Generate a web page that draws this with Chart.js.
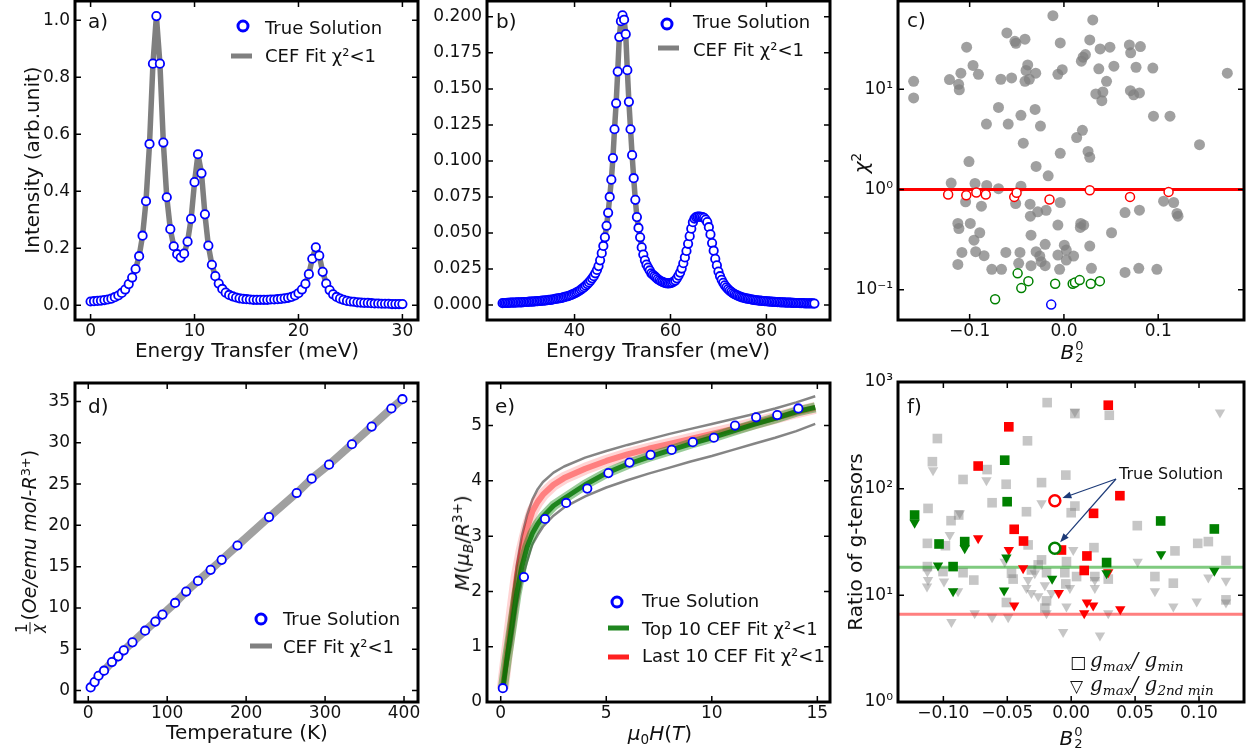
<!DOCTYPE html>
<html>
<head>
<meta charset="utf-8">
<script src="https://cdn.jsdelivr.net/npm/chart.js@4.4.0/dist/chart.umd.min.js"></script>
<style>
body { margin: 0; background: #fff; }
#fig { position: relative; width: 1250px; height: 755px; overflow: hidden; font-family: 'DejaVu Sans', sans-serif; color: #111; }
canvas { position: absolute; }
.t { position: absolute; white-space: nowrap; font-size: 20px; line-height: 20px; }
.ctr { transform: translate(-50%, -50%); }
.rot { transform: translate(-50%, -50%) rotate(-90deg); }
.pl { position: absolute; font-size: 20px; line-height: 20px; }
.leg { position: absolute; font-size: 18px; line-height: 18px; white-space: nowrap; }
.mk { position: absolute; width: 7px; height: 7px; border: 3px solid #00f; border-radius: 50%; background: #fff; transform: translate(-50%, -50%); }
.sw { position: absolute; height: 5px; transform: translateY(-50%); }
sup, sub { font-size: 0.68em; line-height: 0; position: relative; vertical-align: baseline; }
sup { top: -0.5em; }
sub { top: 0.3em; }
.st { display: inline-block; vertical-align: middle; font-size: 13px; line-height: 12px; margin-left: 1px; text-align: left; position: relative; top: -1px; }
.st span { display: block; }
.fr { display: inline-block; vertical-align: middle; text-align: center; font-size: 15px; line-height: 15px; margin-right: 2px; }
.fr span { display: block; padding: 0 1px; }
.fr .de { border-top: 1.3px solid #111; }
.gm { font-family: 'DejaVu Serif', serif; font-style: italic; font-size: 20px; }
</style>
</head>
<body>
<div id="fig">
  <canvas id="ca"></canvas>
  <canvas id="cb"></canvas>
  <canvas id="cc"></canvas>
  <canvas id="cd"></canvas>
  <canvas id="ce"></canvas>
  <canvas id="cf"></canvas>

  <!-- panel labels -->
  <div class="pl" style="left:88px;top:11px">a)</div>
  <div class="pl" style="left:496px;top:11px">b)</div>
  <div class="pl" style="left:907px;top:10px">c)</div>
  <div class="pl" style="left:88px;top:396px">d)</div>
  <div class="pl" style="left:495px;top:396px">e)</div>
  <div class="pl" style="left:907px;top:396px">f)</div>

  <!-- axis titles -->
  <div class="t rot" style="left:32px;top:160px">Intensity (arb.unit)</div>
  <div class="t ctr" style="left:247px;top:350px">Energy Transfer (meV)</div>
  <div class="t ctr" style="left:658px;top:350px">Energy Transfer (meV)</div>
  <div class="t rot" style="left:861px;top:163px"><i>χ</i><sup>2</sup></div>
  <div class="t ctr" style="left:1072px;top:353px"><i>B</i><span class="st"><span>0</span><span>2</span></span></div>

  <div class="t rot" style="left:30px;top:542px;font-size:19px"><span class="fr"><span>1</span><span class="de"><i>χ</i></span></span>(<i>Oe/emu mol-R</i><sup>3+</sup>)</div>
  <div class="t ctr" style="left:247px;top:732px">Temperature (K)</div>
  <div class="t rot" style="left:462px;top:543px"><i>M</i>(<i>μ</i><sub><i>B</i></sub>/<i>R</i><sup>3+</sup>)</div>
  <div class="t ctr" style="left:660px;top:733px"><i>μ</i><sub>0</sub><i>H</i>(<i>T</i>)</div>
  <div class="t rot" style="left:855px;top:542px">Ratio of g-tensors</div>
  <div class="t ctr" style="left:1071px;top:739px"><i>B</i><span class="st"><span>0</span><span>2</span></span></div>

  <!-- legend a -->
  <div class="mk" style="left:243px;top:26px"></div>
  <div class="leg" style="left:265px;top:19px">True Solution</div>
  <div class="sw" style="left:231px;top:56px;width:21px;background:#808080"></div>
  <div class="leg" style="left:265px;top:47px">CEF Fit χ²&lt;1</div>
  <!-- legend b -->
  <div class="mk" style="left:667px;top:24px"></div>
  <div class="leg" style="left:693px;top:13px">True Solution</div>
  <div class="sw" style="left:658px;top:48px;width:21px;background:#808080"></div>
  <div class="leg" style="left:693px;top:41px">CEF Fit χ²&lt;1</div>
  <!-- legend d -->
  <div class="mk" style="left:261px;top:619px"></div>
  <div class="leg" style="left:283px;top:610px">True Solution</div>
  <div class="sw" style="left:250px;top:646px;width:22px;background:#808080"></div>
  <div class="leg" style="left:283px;top:638px">CEF Fit χ²&lt;1</div>
  <!-- legend e -->
  <div class="mk" style="left:617px;top:602px"></div>
  <div class="leg" style="left:642px;top:592px">True Solution</div>
  <div class="sw" style="left:608px;top:628px;width:21px;background:#1f861f"></div>
  <div class="leg" style="left:642px;top:620px">Top 10 CEF Fit χ²&lt;1</div>
  <div class="sw" style="left:608px;top:657px;width:21px;background:#ff2020"></div>
  <div class="leg" style="left:642px;top:647px">Last 10 CEF Fit χ²&lt;1</div>
  <!-- legend f -->
  <div class="leg" style="left:1070px;top:653px;font-size:17px">□</div>
  <div class="leg gm" style="left:1090px;top:651px">g<sub>max</sub>/ g<sub>min</sub></div>
  <div class="leg" style="left:1070px;top:677px;font-size:17px">▽</div>
  <div class="leg gm" style="left:1090px;top:675px">g<sub>max</sub>/ g<sub>2nd min</sub></div>
  <div class="leg" style="left:1119px;top:466px;font-size:16px;line-height:16px">True Solution</div>
</div>

<script>
// a) INS spectrum 1
const aE = [0,0.33,0.67,1,1.33,1.67,2,2.33,2.67,3,3.33,3.67,4,4.33,4.67,5,5.33,5.67,6,6.33,6.67,7,7.33,7.67,8,8.33,8.67,9,9.33,9.67,10,10.33,10.67,11,11.33,11.67,12,12.33,12.67,13,13.33,13.67,14,14.33,14.67,15,15.33,15.67,16,16.33,16.67,17,17.33,17.67,18,18.33,18.67,19,19.33,19.67,20,20.33,20.67,21,21.33,21.67,22,22.33,22.67,23,23.33,23.67,24,24.33,24.67,25,25.33,25.67,26,26.33,26.67,27,27.33,27.67,28,28.33,28.67,29,29.33,29.67,30];
const aI = [.013,.014,.015,.016,.018,.020,.023,.028,.034,.043,
  .055,.074,.097,.127,.172,.244,.365,.566,.848,1.015,
  .848,.571,.379,.267,.207,.179,.167,.181,.223,.303,
  .432,.530,.463,.319,.209,.142,.102,.076,.057,.044,
  .036,.031,.027,.024,.022,.021,.020,.019,.019,.019,
  .019,.019,.020,.020,.021,.022,.024,.026,.029,.034,
  .042,.055,.075,.109,.163,.203,.174,.117,.076,.053,
  .038,.029,.023,.019,.015,.013,.012,.010,.009,.008,
  .008,.007,.006,.006,.005,.005,.005,.004,.004,.004,.004];
const aXTicks = [0, 10, 20, 30], aXLabels = ['0', '10', '20', '30'];
const aYTicks = [0, 0.2, 0.4, 0.6, 0.8, 1.0], aYLabels = ['0.0', '0.2', '0.4', '0.6', '0.8', '1.0'];

// b) INS spectrum 2
const bE = [25,25.33,25.67,26,26.33,26.67,27,27.33,27.67,28,28.33,28.67,29,29.33,29.67,30,30.33,30.67,31,31.33,31.67,32,32.33,32.67,33,33.33,33.67,34,34.33,34.67,35,35.33,35.67,36,36.33,36.67,37,37.33,37.67,38,38.33,38.67,39,39.33,39.67,40,40.33,40.67,41,41.33,41.67,42,42.33,42.67,43,43.33,43.67,44,44.33,44.67,45,45.33,45.67,46,46.33,46.67,47,47.33,47.67,48,48.33,48.67,49,49.33,49.67,50,50.33,50.67,51,51.33,51.67,52,52.33,52.67,53,53.33,53.67,54,54.33,54.67,55,55.33,55.67,56,56.33,56.67,57,57.33,57.67,58,58.33,58.67,59,59.33,59.67,60,60.33,60.67,61,61.33,61.67,62,62.33,62.67,63,63.33,63.67,64,64.33,64.67,65,65.33,65.67,66,66.33,66.67,67,67.33,67.67,68,68.33,68.67,69,69.33,69.67,70,70.33,70.67,71,71.33,71.67,72,72.33,72.67,73,73.33,73.67,74,74.33,74.67,75,75.33,75.67,76,76.33,76.67,77,77.33,77.67,78,78.33,78.67,79,79.33,79.67,80,80.33,80.67,81,81.33,81.67,82,82.33,82.67,83,83.33,83.67,84,84.33,84.67,85,85.33,85.67,86,86.33,86.67,87,87.33,87.67,88,88.33,88.67,89,89.33,89.67,90];
const bI = [.0013,.0014,.0014,.0015,.0015,.0016,.0016,.0017,.0017,.0018,
  .0018,.0019,.0019,.0020,.0021,.0021,.0022,.0023,.0023,.0024,
  .0025,.0026,.0027,.0028,.0029,.0030,.0031,.0032,.0033,.0035,
  .0036,.0038,.0040,.0042,.0044,.0046,.0048,.0050,.0053,.0056,
  .0059,.0062,.0066,.0070,.0075,.0080,.0086,.0092,.0099,.0107,
  .0115,.0124,.0134,.0145,.0157,.0170,.0185,.0200,.0220,.0243,
  .0270,.0310,.0360,.0410,.0470,.0550,.0640,.0750,.0870,.1020,
  .1220,.1400,.1620,.1860,.1970,.2010,.1980,.1880,.1630,.1410,
  .1220,.1040,.0880,.0730,.0610,.0535,.0470,.0400,.0350,.0310,
  .0280,.0260,.0240,.0220,.0210,.0200,.0190,.0180,.0172,.0165,
  .0160,.0155,.0152,.0150,.0150,.0152,.0156,.0162,.0170,.0185,
  .0204,.0225,.0253,.0290,.0330,.0375,.0425,.0478,.0530,.0575,
  .0600,.0610,.0613,.0613,.0612,.0610,.0605,.0593,.0575,.0540,
  .0490,.0430,.0377,.0320,.0275,.0232,.0200,.0175,.0154,.0137,
  .0123,.0111,.0100,.0091,.0083,.0076,.0070,.0065,.0060,.0056,
  .0052,.0049,.0046,.0044,.0042,.0040,.0038,.0036,.0034,.0033,
  .0031,.0030,.0029,.0028,.0027,.0026,.0025,.0024,.0023,.0022,
  .0022,.0021,.0020,.0020,.0019,.0018,.0018,.0017,.0017,.0016,
  .0016,.0015,.0015,.0014,.0014,.0014,.0013,.0013,.0013,.0012,
  .0012,.0012,.0011,.0011,.0011,.0010];
const bXTicks = [40, 60, 80], bXLabels = ['40', '60', '80'];
const bYTicks = [0, 0.025, 0.05, 0.075, 0.1, 0.125, 0.15, 0.175, 0.2];
const bYLabels = ['0.000', '0.025', '0.050', '0.075', '0.100', '0.125', '0.150', '0.175', '0.200'];

// c) chi^2 vs B20
const cGrayB = [-0.0117,0.0306,-0.0605,-0.0520,-0.0413,-0.0509,-0.0039,0.0274,-0.1032,0.0384,
  0.0488,0.0694,0.0811,0.0708,0.0228,0.0185,0.0203,-0.0384,-0.0402,-0.0964,
  -0.1093,-0.0907,-0.0299,-0.0367,-0.0413,-0.0669,-0.0555,-0.1214,-0.1117,-0.1110,
  -0.1594,-0.1594,-0.0018,-0.0064,0.0370,0.0530,0.0765,0.0943,0.0452,0.0338,
  0.0413,0.0402,0.0705,0.0740,0.0801,0.1733,-0.0694,-0.0306,-0.0456,-0.0822,
  -0.0591,-0.0249,0.0950,0.1125,0.0196,0.0135,-0.0431,0.1438,0.0256,-0.0039,
  0.0274,-0.1007,-0.0295,-0.0167,-0.1196,-0.0943,-0.0819,-0.0694,-0.0456,-0.1043,
  -0.0875,-0.0512,-0.0359,-0.0039,-0.0189,-0.0278,-0.0356,0.0648,0.0801,0.1057,
  0.1164,0.1199,0.1210,-0.1125,-0.1114,-0.0993,-0.0893,-0.0954,-0.0064,0.0178,
  0.0174,0.0210,0.0505,-0.0349,-0.0199,0.0004,0.0025,0.0274,-0.1082,-0.0936,
  -0.0847,-0.0616,-0.0466,-0.0295,-0.0256,-0.0064,0.0103,0.0025,-0.1125,-0.0480,
  -0.0349,-0.0199,-0.0765,-0.0662,-0.0046,0.0292,0.0648,0.0794,0.0986,-0.0242];
const cGrayChi = [54.3,49.2,36.5,30.1,31.6,28.8,29.0,31.1,26.3,25.3,
  26.3,27.7,26.7,23.1,22.2,19.1,20.9,17.5,15.4,17.3,
  14.5,14.1,14.5,12.6,12.0,12.6,13.0,12.5,11.2,9.9,
  12.0,8.2,15.7,14.1,16.0,17.0,16.6,16.3,12.0,9.0,
  9.4,7.7,9.7,8.8,9.2,14.5,6.6,6.3,5.5,4.5,
  4.5,4.3,5.4,5.4,3.9,3.3,2.9,2.8,2.4,2.3,
  2.1,1.9,1.7,1.37,1.16,1.15,1.10,1.02,1.08,0.754,
  0.682,0.726,0.715,0.743,0.622,0.600,0.543,0.590,0.623,0.765,
  0.743,0.577,0.543,0.459,0.409,0.459,0.371,0.313,0.442,0.459,
  0.419,0.442,0.371,0.351,0.284,0.279,0.249,0.273,0.236,0.240,
  0.219,0.236,0.236,0.240,0.217,0.222,0.217,0.198,0.179,0.184,
  0.174,0.174,0.160,0.160,0.160,0.164,0.149,0.164,0.160,0.191];
const cRedB = [-0.1228,-0.1036,-0.0929,-0.0829,-0.0527,-0.0502,-0.0153,0.0274,0.0701,0.1110];
const cRedChi = [0.892,0.879,0.933,0.892,0.845,0.927,0.795,0.985,0.845,0.948];
const cGreenB = [-0.0730,-0.0491,-0.0452,-0.0377,-0.0093,0.0093,0.0117,0.0167,0.0285,0.0381];
const cGreenChi = [0.0804,0.146,0.104,0.122,0.115,0.115,0.118,0.125,0.115,0.122];
const cTrueB = [-0.0135], cTrueChi = [0.0712];
const cLimit = 1;
const cXTicks = [-0.1, 0, 0.1], cXLabels = ['\u22120.1', '0.0', '0.1'];
const cYTicks = [0.1, 1, 10], cYLabels = ['10\u207B\u00B9', '10\u2070', '10\u00B9'];

// d) inverse susceptibility
const dT = [3,8,13,20,30,38,45,56,72,85,94,110,124,139,155,169,189,229,264,283,305,334,359,384,398];
const dInv = [0.36,1.01,1.78,2.39,3.44,4.13,4.86,5.83,7.24,8.34,9.19,10.60,11.98,13.27,14.61,15.82,17.56,21.00,23.92,25.66,27.36,29.83,31.97,34.16,35.29];
const dXTicks = [0, 100, 200, 300, 400], dXLabels = ['0', '100', '200', '300', '400'];
const dYTicks = [0, 5, 10, 15, 20, 25, 30, 35], dYLabels = ['0', '5', '10', '15', '20', '25', '30', '35'];

// e) magnetization
const eH = [0.1,1.1,2.1,3.1,4.1,5.1,6.1,7.1,8.1,9.1,10.1,11.1,12.1,13.1,14.1];
const eM = [0.25,2.26,3.31,3.60,3.86,4.14,4.33,4.47,4.56,4.70,4.78,5.00,5.15,5.19,5.31];
const eHfit = [0.1,0.3,0.5,0.75,1,1.25,1.5,1.75,2,2.5,3,4,5,6,7,8,9,10,11,12,13,14,14.9];
const eUpper = [0.25,0.95,1.6,2.45,3.0,3.38,3.66,3.85,3.98,4.15,4.26,4.42,4.54,4.65,4.75,4.85,4.94,5.03,5.12,5.21,5.31,5.42,5.53];
const eLower = [0.22,0.65,1.05,1.72,2.2,2.55,2.85,3.02,3.17,3.37,3.52,3.72,3.88,4.01,4.13,4.24,4.35,4.45,4.56,4.67,4.78,4.9,5.03];
const eTop10 = [0.24,0.8,1.3,1.95,2.45,2.8,3.05,3.22,3.35,3.55,3.68,3.93,4.14,4.3,4.43,4.55,4.67,4.78,4.9,5.02,5.13,5.25,5.33];
const eLast10 = [0.25,0.9,1.5,2.25,2.75,3.15,3.45,3.62,3.75,3.93,4.05,4.22,4.36,4.48,4.58,4.67,4.76,4.85,4.94,5.04,5.14,5.24,5.32];
const eXTicks = [0, 5, 10, 15], eXLabels = ['0', '5', '10', '15'];
const eYTicks = [0, 1, 2, 3, 4, 5], eYLabels = ['0', '1', '2', '3', '4', '5'];

// f) ratio of g-tensors
const fGraySqB = [-0.0188,0.0029,0.0298,-0.1047,-0.0342,-0.1086,-0.0658,-0.0846,-0.0232,-0.0042,
  -0.0509,-0.0619,-0.1120,-0.0350,0.0029,0.0000,-0.0940,-0.0880,-0.1125,-0.0984,
  -0.0337,-0.0232,0.0178,-0.0037,0.0517,0.0812,0.0990,0.1073,0.1211,-0.1125,
  -0.1003,-0.0846,-0.0762,-0.0467,-0.0454,-0.0311,-0.0258,-0.0193,-0.0050,0.0042,
  0.0185,0.0290,0.0655,0.0799,0.1211,-0.0507,-0.0193,-0.0206,-0.0042];
const fGraySqR = [641,506,488,295,281,179,151,122,114,134,
  110,73.8,65.3,60.8,68.7,59.5,50.1,56.6,30.7,29.2,
  29.7,21.5,28.0,20.7,45.0,26.1,30.7,31.9,21.2,18.6,
  16.7,16.3,13.9,16.1,14.2,17.3,19.3,16.3,16.3,15.0,
  15.0,14.2,15.0,13.0,9.07,8.57,8.87,7.59,12.8];
const fGrayTrB = [-0.1081,-0.0663,-0.0232,-0.0872,-0.0950,0.1164,0.0029,-0.1125,-0.1120,-0.1128,
  -0.0995,-0.0885,-0.0520,-0.0337,-0.0311,-0.0206,0.0016,0.0185,0.0185,0.0520,
  0.0655,0.0799,0.0982,0.1073,0.1211,0.1211,-0.0755,-0.0619,-0.0493,-0.0937,
  -0.0193,-0.0037,0.0290,-0.0063,0.0225,-0.0285,-0.0350,-0.0258,-0.0154,-0.0010];
const fGrayTrR = [149,120,72.8,58.7,36.8,517,525,16.7,13.9,12.1,
  13.5,10.9,20.7,13.9,10.5,12.4,26.6,13.9,11.7,20.7,
  10.9,7.85,8.75,14.7,13.7,8.57,6.81,6.24,6.24,5.61,
  6.81,7.85,6.81,4.52,4.21,16.1,11.7,9.8,10.5,11.7];
const fGreenSqB = [-0.0520,-0.0501,-0.1225,-0.1034,-0.0833,-0.0924,0.0277,0.0700,0.1120];
const fGreenSqR = [185,75.5,56.6,30.3,31.9,18.6,20.3,49.8,41.9];
const fGreenTrB = [-0.1225,-0.0833,-0.1042,-0.0924,-0.0507,-0.0525,-0.0149,0.0277,0.0703,0.1120];
const fGreenTrR = [48.0,27.6,19.0,10.9,22.6,11.1,14.3,16.1,24.3,17.0];
const fRedSqB = [0.0290,-0.0488,-0.0728,0.0381,0.0175,-0.0446,-0.0373,-0.0076,0.0123,0.0102];
const fRedSqR = [606,380,163,85.9,58.7,41.6,32.3,26.6,23.4,17.1];
const fRedTrB = [-0.0728,-0.0488,-0.0376,0.0290,-0.0097,-0.0446,0.0123,0.0172,0.0102,0.0384];
const fRedTrR = [34.3,26.6,17.9,16.5,10.5,8.03,8.57,8.03,6.81,7.42];
const fTrueB = [-0.0128], fTrueSq = [77.1], fTrueTr = [27.6];
const fGreenLevel = 18.3, fRedLevel = 6.66;
const fXTicks = [-0.1, -0.05, 0, 0.05, 0.1];
const fXLabels = ['\u22120.10', '\u22120.05', '0.00', '0.05', '0.10'];
const fYTicks = [1, 10, 100, 1000], fYLabels = ['10\u2070', '10\u00B9', '10\u00B2', '10\u00B3'];

// ---------- helpers ----------
const pts = (xs, ys) => xs.map((x, i) => ({x: x, y: ys[i]}));
const hline = (v, x0, x1) => [{x: x0, y: v}, {x: x1, y: v}];

function axis(type, min, max, tickVals, tickLabels, isX) {
  return {
    type: type, min: min, max: max,
    grid: {display: false, drawTicks: false},
    border: {display: false},
    ticks: {
      autoSkip: false, maxRotation: 0, minRotation: 0,
      font: {family: 'DejaVu Sans', size: 17}, color: '#111',
      padding: isX ? 1 : 5,
      callback: (v, i) => tickLabels[i]
    },
    afterBuildTicks: s => { s.ticks = tickVals.map(v => ({value: v})); },
    afterFit: s => {
      if (isX) s.height = 40; else s.width = 60;
      s.paddingLeft = 0; s.paddingRight = 0; s.paddingTop = 0; s.paddingBottom = 0;
    }
  };
}

// inward ticks on all four sides + heavy frame
const frame = {
  id: 'frame',
  afterDraw(chart) {
    const ctx = chart.ctx, a = chart.chartArea;
    const x = chart.scales.x, y = chart.scales.y;
    ctx.save();
    ctx.strokeStyle = '#000';
    ctx.lineWidth = 1.5;
    ctx.beginPath();
    x.ticks.forEach(t => {
      const p = x.getPixelForValue(t.value);
      ctx.moveTo(p, a.bottom); ctx.lineTo(p, a.bottom - 6);
      ctx.moveTo(p, a.top); ctx.lineTo(p, a.top + 6);
    });
    y.ticks.forEach(t => {
      const p = y.getPixelForValue(t.value);
      ctx.moveTo(a.left, p); ctx.lineTo(a.left + 6, p);
      ctx.moveTo(a.right, p); ctx.lineTo(a.right - 6, p);
    });
    ctx.stroke();
    ctx.lineWidth = 3;
    ctx.strokeRect(a.left, a.top, a.right - a.left, a.bottom - a.top);
    ctx.restore();
  }
};

// arrows from "True Solution" text to the two circles in f)
const arrows = {
  id: 'arrows',
  afterDatasetsDraw(chart) {
    const ctx = chart.ctx, a = chart.chartArea;
    const x = chart.scales.x, y = chart.scales.y;
    const sx = a.left + 218, sy = a.top + 97;
    [fTrueSq[0], fTrueTr[0]].forEach(v => {
      const cx = x.getPixelForValue(fTrueB[0]), cy = y.getPixelForValue(v);
      const dx = sx - cx, dy = sy - cy, L = Math.hypot(dx, dy);
      const ux = dx / L, uy = dy / L;
      const tx = cx + ux * 8, ty = cy + uy * 8;
      ctx.save();
      ctx.strokeStyle = '#1c3a78'; ctx.fillStyle = '#1c3a78'; ctx.lineWidth = 1.2;
      ctx.beginPath(); ctx.moveTo(sx, sy); ctx.lineTo(tx + ux * 7, ty + uy * 7); ctx.stroke();
      ctx.beginPath();
      ctx.moveTo(tx, ty);
      ctx.lineTo(tx + ux * 9 - uy * 3.5, ty + uy * 9 + ux * 3.5);
      ctx.lineTo(tx + ux * 9 + uy * 3.5, ty + uy * 9 - ux * 3.5);
      ctx.closePath(); ctx.fill();
      ctx.restore();
    });
  }
};

function panel(id, rect, xAxis, yAxis, datasets, extra) {
  const [L, T, R, B] = rect;
  const cv = document.getElementById(id);
  cv.width = R - L + 80; cv.height = B - T + 55;
  cv.style.left = (L - 70) + 'px'; cv.style.top = (T - 10) + 'px';
  return new Chart(cv, {
    type: 'scatter',
    data: {datasets: datasets},
    options: {
      responsive: false, animation: false, events: [],
      layout: {padding: {left: 10, top: 10, right: 10, bottom: 5}},
      plugins: {legend: {display: false}, tooltip: {enabled: false}},
      scales: {x: xAxis, y: yAxis}
    },
    plugins: [frame].concat(extra || [])
  });
}

const trueSol = (data, order) => ({
  data: data, order: order, pointRadius: 4.2, pointBorderWidth: 1.8,
  pointBorderColor: '#0000ff', pointBackgroundColor: '#ffffff'
});
const fitLine = (data, color, width, order) => ({
  data: data, order: order, showLine: true, pointRadius: 0, borderColor: color,
  borderWidth: width, borderJoinStyle: 'round', borderCapStyle: 'butt', tension: 0
});

// ---------- panels ----------
panel('ca', [75, 1, 418, 320],
  axis('linear', -1.5, 31.5, aXTicks, aXLabels, true),
  axis('linear', -0.052, 1.068, aYTicks, aYLabels, false),
  [trueSol(pts(aE, aI), 0), fitLine(pts(aE, aI), 'rgba(120,120,120,0.95)', 5.5, 1)]);

panel('cb', [487, 1, 830, 320],
  axis('linear', 21.75, 93.25, bXTicks, bXLabels, true),
  axis('linear', -0.0104, 0.211, bYTicks, bYLabels, false),
  [trueSol(pts(bE, bI), 0), fitLine(pts(bE, bI), 'rgba(120,120,120,0.95)', 5.5, 1)]);

panel('cc', [898, 1, 1244, 320],
  axis('linear', -0.176, 0.191, cXTicks, cXLabels, true),
  axis('logarithmic', 0.05, 76, cYTicks, cYLabels, false),
  [
    {data: pts(cTrueB, cTrueChi), order: 0, pointRadius: 4.5, pointBorderWidth: 1.5, pointBorderColor: '#0000ff', pointBackgroundColor: '#fff'},
    {data: pts(cGreenB, cGreenChi), order: 1, pointRadius: 4.5, pointBorderWidth: 1.5, pointBorderColor: '#008000', pointBackgroundColor: '#fff'},
    {data: pts(cRedB, cRedChi), order: 2, pointRadius: 4.5, pointBorderWidth: 1.5, pointBorderColor: '#ff0000', pointBackgroundColor: '#fff'},
    fitLine(hline(cLimit, -0.3, 0.3), '#ff0000', 3, 3),
    {data: pts(cGrayB, cGrayChi), order: 4, pointRadius: 5.5, pointBorderWidth: 0, pointBackgroundColor: 'rgba(128,128,128,0.75)'}
  ]);

panel('cd', [75, 383, 418, 702],
  axis('linear', -16.8, 417.7, dXTicks, dXLabels, true),
  axis('linear', -1.4, 37.25, dYTicks, dYLabels, false),
  [trueSol(pts(dT, dInv), 0), fitLine(pts(dT, dInv), 'rgba(128,128,128,0.75)', 8, 1)]);

panel('ce', [487, 383, 830, 702],
  axis('linear', -0.65, 15.6, eXTicks, eXLabels, true),
  axis('linear', 0, 5.77, eYTicks, eYLabels, false),
  [
    trueSol(pts(eH, eM), 0),
    fitLine(pts(eHfit, eTop10), 'rgba(0,115,0,0.8)', 5, 1),
    fitLine(pts(eHfit, eTop10), 'rgba(0,128,0,0.4)', 10, 2),
    fitLine(pts(eHfit, eLast10), 'rgba(255,0,0,0.4)', 6, 3),
    fitLine(pts(eHfit, eLast10), 'rgba(255,40,40,0.2)', 12, 4),
    fitLine(pts(eHfit, eUpper), 'rgba(120,120,120,0.9)', 2.5, 5),
    fitLine(pts(eHfit, eLower), 'rgba(120,120,120,0.9)', 2.5, 6)
  ]);

panel('cf', [898, 382, 1244, 702],
  axis('linear', -0.1355, 0.1352, fXTicks, fXLabels, true),
  axis('logarithmic', 1, 1000, fYTicks, fYLabels, false),
  [
    {data: pts(fTrueB, fTrueSq), order: 0, pointRadius: 5.5, pointBorderWidth: 2.5, pointBorderColor: '#ff0000', pointBackgroundColor: '#fff'},
    {data: pts(fTrueB, fTrueTr), order: 0, pointRadius: 5.5, pointBorderWidth: 2.5, pointBorderColor: '#008000', pointBackgroundColor: '#fff'},
    {data: pts(fGreenSqB, fGreenSqR), order: 1, pointStyle: 'rect', pointRadius: 6.8, pointBorderWidth: 0, pointBackgroundColor: '#008000'},
    {data: pts(fGreenTrB, fGreenTrR), order: 1, pointStyle: 'triangle', pointRotation: 180, pointRadius: 6, pointBorderWidth: 0, pointBackgroundColor: '#008000'},
    {data: pts(fRedSqB, fRedSqR), order: 1, pointStyle: 'rect', pointRadius: 6.8, pointBorderWidth: 0, pointBackgroundColor: '#ff0000'},
    {data: pts(fRedTrB, fRedTrR), order: 1, pointStyle: 'triangle', pointRotation: 180, pointRadius: 6, pointBorderWidth: 0, pointBackgroundColor: '#ff0000'},
    fitLine(hline(fGreenLevel, -0.3, 0.3), 'rgba(0,150,0,0.5)', 3, 2),
    fitLine(hline(fRedLevel, -0.3, 0.3), 'rgba(255,0,0,0.5)', 3, 2),
    {data: pts(fGraySqB, fGraySqR), order: 3, pointStyle: 'rect', pointRadius: 6.8, pointBorderWidth: 0, pointBackgroundColor: 'rgba(128,128,128,0.45)'},
    {data: pts(fGrayTrB, fGrayTrR), order: 3, pointStyle: 'triangle', pointRotation: 180, pointRadius: 6, pointBorderWidth: 0, pointBackgroundColor: 'rgba(128,128,128,0.45)'}
  ], [arrows]);
</script>
</body>
</html>
